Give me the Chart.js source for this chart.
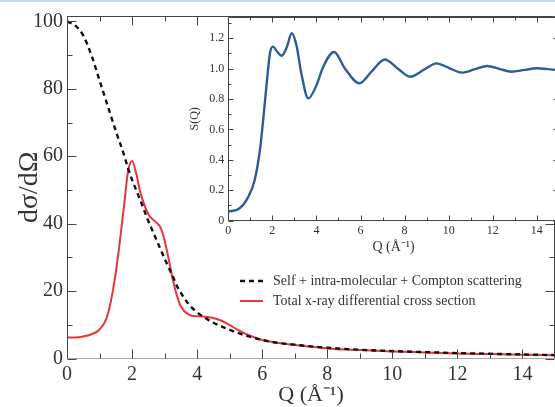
<!DOCTYPE html>
<html>
<head>
<meta charset="utf-8">
<script src="https://cdn.jsdelivr.net/npm/chart.js@4.4.1/dist/chart.umd.min.js"></script>
<style>
  html, body { margin: 0; padding: 0; background: #fff; overflow: hidden; }
  #wrap { position: relative; width: 555px; height: 407px; overflow: hidden; }
  #topband { position: absolute; left: 0; top: 0; width: 555px; height: 2px; background: #c9dcef; }
  #mainChart { position: absolute; left: 0; top: 0; }
  #insetChart { position: absolute; left: 180px; top: 0; }
</style>
</head>
<body>
<div id="wrap">
  <canvas id="mainChart" width="555" height="407"></canvas>
  <canvas id="insetChart" width="390" height="262"></canvas>
  <div id="topband"></div>
</div>
<script>
// main plot: Q (1/A) and the two cross section curves
const qMain = [0, 0.25, 0.5, 0.75, 1, 1.25, 1.5, 1.75, 1.875, 2, 2.125, 2.25, 2.5, 2.75, 2.875, 3, 3.125, 3.25, 3.375, 3.5,
  3.75, 4, 4.25, 4.5, 4.75, 5, 5.25, 5.5, 5.75, 6, 6.5, 7, 7.5, 8, 9, 10, 11, 12, 13, 14, 15];
const selfScatter = [100, 98.8, 95.8, 90, 82.5, 75, 67.5, 60.5, 56.5, 53, 50, 47, 40.8, 35.2, 32.4, 29.6, 27, 24.4, 21.6, 19.5,
  16, 13.7, 12, 10.6, 9.5, 8.5, 7.6, 6.8, 6.1, 5.5, 4.6, 4.1, 3.6, 3.2, 2.6, 2.2, 1.9, 1.6, 1.4, 1.2, 1.0];
const totalXray = [6.2, 6.2, 6.5, 7.2, 8.6, 13, 25.5, 45, 55.5, 58.6, 55, 49.5, 42.8, 40.3, 38.8, 35, 29.5, 23.5, 18.8, 15.4,
  13, 12.5, 12.4, 12, 11.2, 9.9, 8.5, 7.3, 6.3, 5.5, 4.6, 4.0, 3.5, 3.0, 2.5, 2.1, 1.8, 1.5, 1.3, 1.1, 1.0];

// inset: structure factor S(Q)
const qInset = [0, 0.5, 0.9, 1.2, 1.45, 1.6, 1.75, 1.9, 2.03, 2.2, 2.42, 2.65, 2.88, 3.1, 3.3, 3.63, 4.0, 4.3, 4.8, 5.3,
  5.95, 6.5, 7.1, 7.7, 8.25, 8.9, 9.45, 10.0, 10.6, 11.2, 11.75, 12.3, 12.85, 13.45, 14.0, 14.5, 15];
const sOfQ = [0.06, 0.08, 0.155, 0.27, 0.48, 0.69, 0.915, 1.11, 1.145, 1.115, 1.085, 1.14, 1.233, 1.15, 0.98, 0.805, 0.89, 1.01, 1.11, 1.0,
  0.904, 0.98, 1.06, 1.0, 0.947, 0.995, 1.035, 1.006, 0.974, 0.997, 1.018, 0.999, 0.98, 0.992, 1.003, 0.997, 0.99];

const mainXTicks = [0, 2, 4, 6, 8, 10, 12, 14];
const mainYTicks = [0, 20, 40, 60, 80, 100];
const insetXTicks = [0, 2, 4, 6, 8, 10, 12, 14];
const insetYTicks = [0, 0.2, 0.4, 0.6, 0.8, 1.0, 1.2];
const insetYLabels = ['0', '0.2', '0.4', '0.6', '0.8', '1.0', '1.2'];

const serif = '"Liberation Serif", "Times New Roman", serif';
const textColor = '#333';

const pts = (xs, ys) => xs.map((x, i) => ({ x: x, y: ys[i] }));

// box around the plot area with inward ticks on all four sides
const frameTicks = {
  id: 'frameTicks',
  beforeDraw(chart, args, o) {
    if (!o.fill) return;
    const a = chart.chartArea;
    chart.ctx.save();
    chart.ctx.fillStyle = o.fill;
    chart.ctx.fillRect(a.left, a.top, a.right - a.left, a.bottom - a.top);
    chart.ctx.restore();
  },
  afterDraw(chart, args, o) {
    const { ctx, chartArea: a, scales: { x, y } } = chart;
    const L = Math.round(a.left) + 0.5, R = Math.round(a.right) - 0.5;
    const T = Math.round(a.top) + 0.5, B = Math.round(a.bottom) - 0.5;
    ctx.save();
    ctx.lineWidth = 1;
    ctx.strokeStyle = o.color;
    ctx.beginPath();
    ctx.moveTo(L, B); ctx.lineTo(L, T); ctx.lineTo(R, T); ctx.lineTo(R, B);
    ctx.stroke();
    ctx.strokeStyle = o.bottomColor || o.color;
    ctx.beginPath(); ctx.moveTo(L, B); ctx.lineTo(R, B); ctx.stroke();
    ctx.strokeStyle = o.color;
    const eps = 1e-9;
    ctx.beginPath();
    for (let v = x.min; v <= x.max + eps; v += o.xMinor) {
      const major = o.xMajor.some(m => Math.abs(m - v) < eps);
      const len = major ? o.major : o.minor;
      const px = Math.round(x.getPixelForValue(v)) + 0.5;
      ctx.moveTo(px, B); ctx.lineTo(px, B - len);
      ctx.moveTo(px, T); ctx.lineTo(px, T + len);
    }
    for (let v = y.min; v <= y.max + eps; v += o.yMinor) {
      const major = o.yMajor.some(m => Math.abs(m - v) < eps);
      const len = major ? o.major : o.minor;
      const py = Math.round(y.getPixelForValue(v)) + 0.5;
      ctx.moveTo(L, py); ctx.lineTo(L + len, py);
      ctx.moveTo(R, py); ctx.lineTo(R - len, py);
    }
    ctx.stroke();
    ctx.restore();
  }
};

// legend drawn inside the plot, xmgrace style
const lineLegend = {
  id: 'lineLegend',
  afterDraw(chart, args, o) {
    if (!o.show) return;
    const ctx = chart.ctx;
    chart.data.datasets.forEach((ds, i) => {
      const y = o.y + i * o.gap;
      ctx.save();
      ctx.strokeStyle = ds.borderColor;
      ctx.lineWidth = ds.borderWidth;
      ctx.setLineDash(ds.borderDash || []);
      ctx.beginPath();
      ctx.moveTo(o.x0, y); ctx.lineTo(o.x1, y);
      ctx.stroke();
      ctx.setLineDash([]);
      ctx.fillStyle = textColor;
      ctx.font = o.font;
      ctx.textBaseline = 'middle';
      ctx.fillText(ds.label, o.tx, y);
      ctx.restore();
    });
  }
};

new Chart(document.getElementById('mainChart'), {
  type: 'line',
  data: {
    datasets: [
      {
        label: 'Self + intra-molecular + Compton scattering',
        data: pts(qMain, selfScatter),
        borderColor: '#111',
        borderWidth: 2.4,
        borderDash: [5, 4],
        pointRadius: 0,
        cubicInterpolationMode: 'monotone',
      },
      {
        label: 'Total x-ray differential cross section',
        data: pts(qMain, totalXray),
        borderColor: '#e8343f',
        borderWidth: 2,
        pointRadius: 0,
        cubicInterpolationMode: 'monotone',
      },
    ],
  },
  options: {
    responsive: false,
    animation: false,
    layout: { padding: { top: 16, right: 0, left: 0, bottom: 0 } },
    plugins: {
      legend: { display: false },
      tooltip: { enabled: false },
      frameTicks: { color: '#444', bottomColor: '#a8a8a8', xMajor: mainXTicks, yMajor: mainYTicks, xMinor: 1, yMinor: 10, major: 9, minor: 5 },
      lineLegend: { show: true, x0: 240, x1: 263, tx: 273, y: 281, gap: 20, font: '14px ' + serif },
    },
    scales: {
      x: {
        type: 'linear',
        min: 0,
        max: 15,
        afterBuildTicks: s => { s.ticks = mainXTicks.map(v => ({ value: v })); },
        afterFit: s => { s.height = 48.5; },
        grid: { display: false, drawTicks: false },
        border: { display: false },
        ticks: { color: textColor, font: { family: serif, size: 20 }, padding: 4, maxRotation: 0 },
        title: { display: true, text: 'Q (Å⁻¹)', color: textColor, font: { family: serif, size: 22, lineHeight: 1 }, padding: { top: 0, bottom: 1 } },
      },
      y: {
        min: 0,
        max: 101.6,
        afterBuildTicks: s => { s.ticks = mainYTicks.map(v => ({ value: v })); },
        afterFit: s => { s.width = 67; },
        grid: { display: false, drawTicks: false },
        border: { display: false },
        ticks: { color: textColor, font: { family: serif, size: 20 }, padding: 4 },
        title: { display: true, text: 'dσ/dΩ', color: textColor, font: { family: serif, size: 28, lineHeight: 1 }, padding: { top: 16, bottom: 0 } },
      },
    },
  },
  plugins: [frameTicks, lineLegend],
});

new Chart(document.getElementById('insetChart'), {
  type: 'line',
  data: {
    datasets: [
      {
        label: 'S(Q)',
        data: pts(qInset, sOfQ),
        borderColor: '#2f5b9e',
        borderWidth: 2.4,
        pointRadius: 0,
        cubicInterpolationMode: 'monotone',
      },
    ],
  },
  options: {
    responsive: false,
    animation: false,
    layout: { padding: { top: 17, right: 11.2, left: 0, bottom: 0 } },
    plugins: {
      legend: { display: false },
      tooltip: { enabled: false },
      frameTicks: { fill: '#fff', color: '#444', xMajor: insetXTicks, yMajor: insetYTicks, xMinor: 1, yMinor: 0.1, major: 5, minor: 3 },
      lineLegend: { show: false },
    },
    scales: {
      x: {
        type: 'linear',
        min: 0,
        max: 15,
        afterBuildTicks: s => { s.ticks = insetXTicks.map(v => ({ value: v })); },
        afterFit: s => { s.height = 41.3; },
        grid: { display: false, drawTicks: false },
        border: { display: false },
        ticks: { color: textColor, font: { family: serif, size: 12 }, padding: 3, maxRotation: 0 },
        title: { display: true, text: 'Q (Å⁻¹)', color: textColor, font: { family: serif, size: 14, lineHeight: 1 }, padding: { top: 0, bottom: 8 } },
      },
      y: {
        min: 0,
        max: 1.34,
        afterBuildTicks: s => { s.ticks = insetYTicks.map(v => ({ value: v })); },
        afterFit: s => { s.width = 48.3; },
        grid: { display: false, drawTicks: false },
        border: { display: false },
        ticks: { color: textColor, font: { family: serif, size: 12 }, padding: 4, callback: (v, i) => insetYLabels[i] },
        title: { display: true, text: 'S(Q)', color: textColor, font: { family: serif, size: 12, lineHeight: 1 }, padding: { top: 9, bottom: 0 } },
      },
    },
  },
  plugins: [frameTicks, lineLegend],
});
</script>
</body>
</html>
